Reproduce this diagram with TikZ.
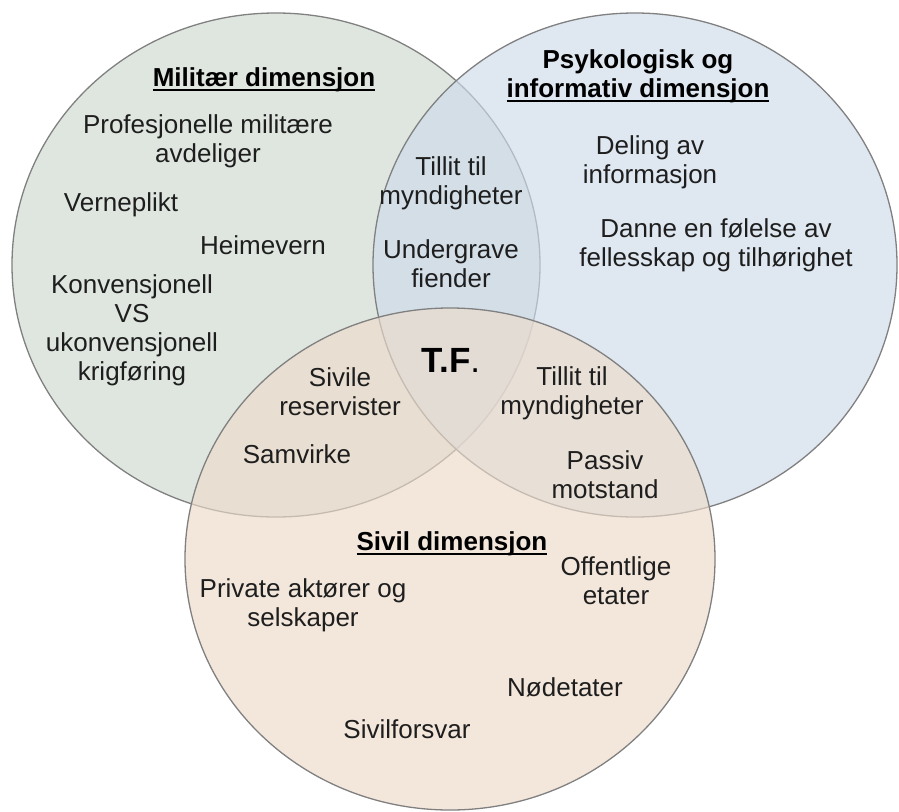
\documentclass[tikz,border=0pt]{standalone}
\usepackage{fontspec}
\setmainfont{Liberation Sans}
\definecolor{leftc}{RGB}{206,218,208}
\definecolor{rightc}{RGB}{206,219,235}
\definecolor{botc}{RGB}{237,219,202}
\definecolor{ringc}{RGB}{128,128,128}
\definecolor{txtc}{RGB}{30,30,30}
\newcommand\myul[1]{\setbox0\hbox{#1}\rlap{\rule[-4.5pt]{\wd0}{2pt}}\box0}
\begin{document}
\begin{tikzpicture}[x=1pt,y=-1pt,
  txt/.style={inner sep=0pt, align=center, anchor=base, text=txtc, font=\fontsize{26}{29}\selectfont},
  hd/.style={txt, text=black, font=\fontsize{26}{29}\selectfont\bfseries},
  venn/.style={draw=ringc, line width=1.3pt, fill opacity=0.65}]
\useasboundingbox (0,0) rectangle (899,811);
\fill[white] (0,0) rectangle (899,811);
% circles
\draw[venn, fill=leftc] (276,265) ellipse [x radius=264, y radius=252];
\draw[venn, fill=rightc] (635,265) ellipse [x radius=262, y radius=252];
\draw[venn, fill=botc] (450,559) ellipse [x radius=265, y radius=251];
% military (base anchor = baseline of last line)
\node[hd] (hmil) at (264,86) {\myul{Militær dimensjon}};
\node[txt] (prof) at (208,162) {Profesjonelle militære\\avdeliger};
\node[txt] (vern) at (121,211) {Verneplikt};
\node[txt] (heim) at (263,254) {Heimevern};
\node[txt] (konv) at (132,380) {Konvensjonell\\VS\\ukonvensjonell\\krigføring};
% psych
\node[hd] (hpsy) at (638,97) {Psykologisk og\\\myul{informativ dimensjon}};
\node[txt] (deling) at (650,183) {Deling av\\informasjon};
\node[txt] (danne) at (716,266) {Danne en følelse av\\fellesskap og tilhørighet};
% intersections
\node[txt] (tillitA) at (451,204) {Tillit til\\myndigheter};
\node[txt] (under) at (451,287) {Undergrave\\fiender};
\node[txt] (sivres) at (340,415) {Sivile\\reservister};
\node[txt] (samv) at (297,463) {Samvirke};
\node[txt] (tillitB) at (572,414) {Tillit til\\myndigheter};
\node[txt] (passiv) at (605,498) {Passiv\\motstand};
\node[inner sep=0pt, anchor=base, text=black, font=\fontsize{35}{40}\selectfont] (tf) at (451,372) {\textbf{T.F}.};
% civil
\node[hd] (hsiv) at (452,550) {\myul{Sivil dimensjon}};
\node[txt] (off) at (616,604) {Offentlige\\etater};
\node[txt] (priv) at (303,626) {Private aktører og\\selskaper};
\node[txt] (nod) at (565,696) {Nødetater};
\node[txt] (sivf) at (407,738) {Sivilforsvar};
\end{tikzpicture}
\end{document}
